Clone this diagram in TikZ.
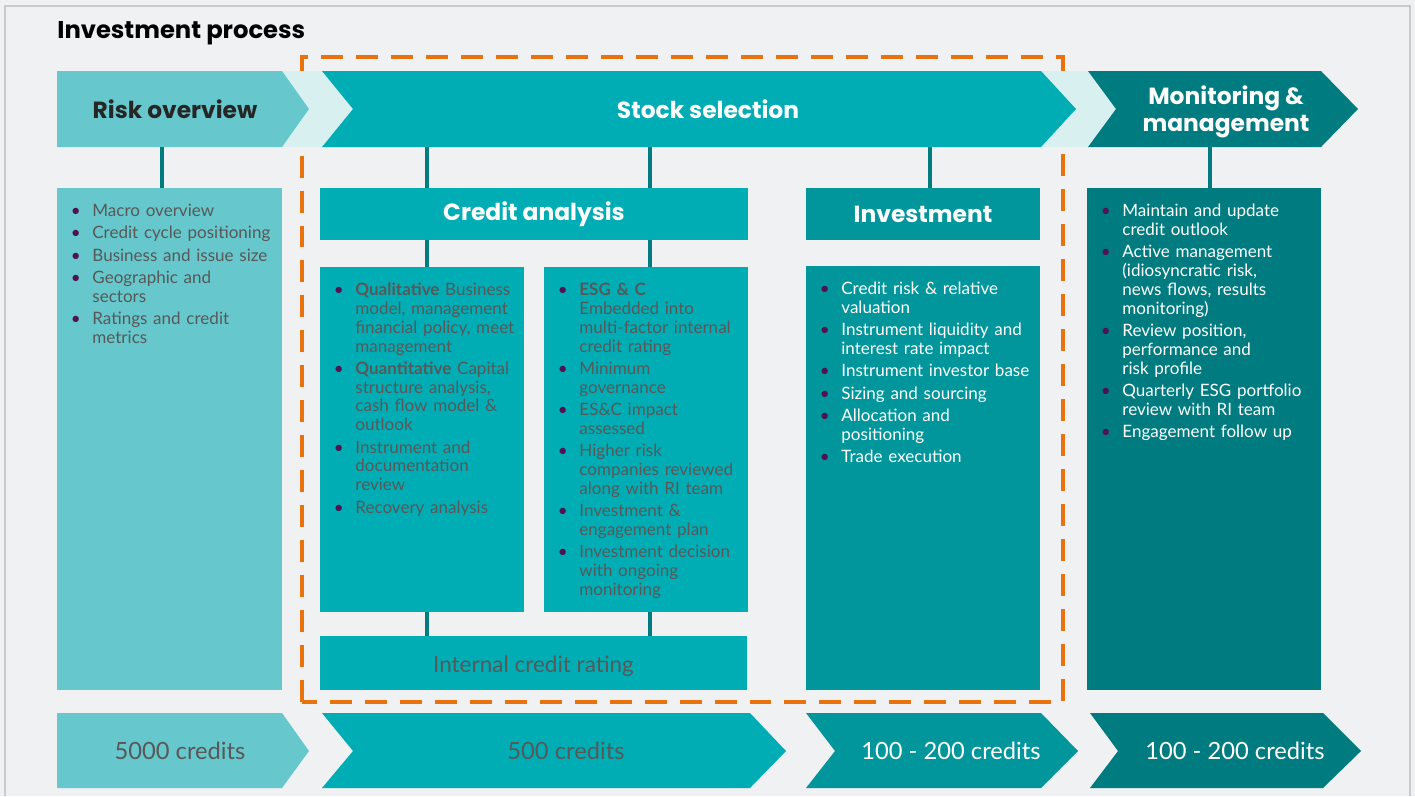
\documentclass[tikz,border=0pt]{standalone}
\usepackage{fontspec}
\setmainfont{Lato}
\newfontfamily\headfont{Poppins}
\usetikzlibrary{positioning}
\usetikzlibrary{fit}

\definecolor{bgcol}{HTML}{F0F1F3}
\definecolor{framecol}{HTML}{C9CACC}
\definecolor{lteal}{HTML}{66C8CC}
\definecolor{pale}{HTML}{D9F0F1}
\definecolor{stockcol}{HTML}{00ADB5}
\definecolor{midteal}{HTML}{00969C}
\definecolor{darkteal}{HTML}{007B80}
\definecolor{dashcol}{HTML}{E8730E}
\definecolor{bulcol}{HTML}{4E1350}
\definecolor{txtgray}{HTML}{585858}
\definecolor{headgray}{HTML}{262626}

\newcommand{\bitem}{\par\hangindent=9.7pt\hangafter=1\noindent\makebox[9.7pt][l]{\hspace*{-2.5pt}\textcolor{bulcol}{\textbullet}}}
\newcommand{\brk}{\hfil\break}

\begin{document}
\begin{tikzpicture}[x=0.02cm, y=-0.02cm,
    head/.style={font=\headfont\bfseries\fontsize{13.3}{15.4}\selectfont},
    box/.style={inner sep=0pt, outer sep=0pt},
    link/.style={draw=darkteal, line width=2.3pt},
    blist/.style={anchor=north west, inner sep=0pt, text width=119pt, align=left,
        font=\fontsize{9.7}{10.7}\selectfont\setlength{\parskip}{2pt}},
    count/.style={font=\fontsize{13.5}{16}\selectfont}]
    \useasboundingbox (0,0) rectangle (1415,796);
    \fill[bgcol] (0,0) rectangle (1415,796);
    \draw[framecol, line width=0.6pt] (5,796) |- (1410,6) -- (1410,796);

    \node (title) at (57,38) [anchor=base west, inner sep=0pt, font=\headfont\bfseries\fontsize{13.8}{16}\selectfont] {Investment process};

    % dashed frame round the stock selection
    \draw[dashcol, line width=2.3pt, dash pattern=on 12.5pt off 7.4pt] (302,702) -- (302,57) -- (1063,57) -- (1063,702) -- cycle;

    % top row
    \fill[pale] (282,71) rectangle (353,147);
    \fill[pale] (1041,71) rectangle (1116,147);
    \fill[lteal] (57,71) -- (282,71) -- (309,109) -- (282,147) -- (57,147) -- cycle;
    \fill[stockcol] (322,71) -- (1041,71) -- (1076,109) -- (1041,147) -- (322,147) -- (353,109) -- cycle;
    \fill[darkteal] (1088,71) -- (1321,71) -- (1358,109) -- (1321,147) -- (1088,147) -- (1116,109) -- cycle;

    \node (risk) at (175,109) [head, text=headgray] {Risk overview};
    \node (stock) at (708,109) [head, text=white] {Stock selection};
    \node (monitor) at (1226,112) [head, text=white, align=center] {Monitoring \&\\management};

    \coordinate (risk-foot) at (162,147);
    \coordinate (ca-left) at (427,147);
    \coordinate (ca-right) at (650,147);
    \coordinate (inv-foot) at (930,147);
    \coordinate (mon-foot) at (1210,147);

    % boxes
    \node (riskbox) [box, fill=lteal, fit={(57,188) (282,690)}] {};
    \node (cahead) [box, fill=stockcol, fit={(320,188) (748,240)}] {};
    \node (qualbox) [box, fill=stockcol, fit={(320,267) (524,612)}] {};
    \node (esgbox) [box, fill=stockcol, fit={(544,267) (748,612)}] {};
    \node (rating) [box, fill=stockcol, fit={(320,636) (747,690)}] {};
    \node (invhead) [box, fill=midteal, fit={(806,188) (1040,240)}] {};
    \node (invbox) [box, fill=midteal, fit={(806,266) (1040,690)}] {};
    \node (monbox) [box, fill=darkteal, fit={(1087,188) (1321,690)}] {};

    \node (ca-title) at (cahead.center) [head, text=white] {Credit analysis};
    \node (inv-title) at (invhead.center) [head, text=white] {Investment};
    \node (rating-title) at ([yshift=-2pt]rating.center) [font=\fontsize{12.8}{15}\selectfont, text=txtgray] {Internal credit rating};

    \draw[link] (risk-foot) -- (risk-foot |- riskbox.north);
    \draw[link] (ca-left) -- (ca-left |- cahead.north);
    \draw[link] (ca-right) -- (ca-right |- cahead.north);
    \draw[link] (ca-left |- cahead.south) -- (ca-left |- qualbox.north);
    \draw[link] (ca-right |- cahead.south) -- (ca-right |- esgbox.north);
    \draw[link] (ca-left |- qualbox.south) -- (ca-left |- rating.north);
    \draw[link] (ca-right |- esgbox.south) -- (ca-right |- rating.north);
    \draw[link] (inv-foot) -- (inv-foot |- invhead.north);
    \draw[link] (mon-foot) -- (mon-foot |- monbox.north);

    % bullet lists
    \node (risklist) at ([shift={(18,6)}]riskbox.north west) [blist, text=txtgray] {%
        \bitem Macro overview
        \bitem Credit cycle positioning
        \bitem Business and issue size
        \bitem Geographic and\brk sectors
        \bitem Ratings and credit\brk metrics\par};
    \node (quallist) at ([shift={(18,6)}]qualbox.north west) [blist, text=txtgray, text width=105pt] {%
        \bitem \textbf{Qualitative} Business\brk model, management\brk financial policy, meet\brk management
        \bitem \textbf{Quantitative} Capital\brk structure analysis,\brk cash flow model \&\brk outlook
        \bitem Instrument and\brk documentation\brk review
        \bitem Recovery analysis\par};
    \node (esglist) at ([shift={(18,6)}]esgbox.north west) [blist, text=txtgray, text width=105pt] {%
        \bitem \textbf{ESG \& C}\brk Embedded into\brk multi-factor internal\brk credit rating
        \bitem Minimum\brk governance
        \bitem ES\&C impact\brk assessed
        \bitem Higher risk\brk companies reviewed\brk along with RI team
        \bitem Investment \&\brk engagement plan
        \bitem Investment decision\brk with ongoing\brk monitoring\par};
    \node (invlist) at ([shift={(18,6)}]invbox.north west) [blist, text=white] {%
        \bitem Credit risk \& relative\brk valuation
        \bitem Instrument liquidity and\brk interest rate impact
        \bitem Instrument investor base
        \bitem Sizing and sourcing
        \bitem Allocation and\brk positioning
        \bitem Trade execution\par};
    \node (monlist) at ([shift={(18,6)}]monbox.north west) [blist, text=white] {%
        \bitem Maintain and update\brk credit outlook
        \bitem Active management\brk (idiosyncratic risk,\brk news flows, results\brk monitoring)
        \bitem Review position,\brk performance and\brk risk profile
        \bitem Quarterly ESG portfolio\brk review with RI team
        \bitem Engagement follow up\par};

    % bottom row
    \fill[lteal] (57,713) -- (282,713) -- (309,751) -- (282,788) -- (57,788) -- cycle;
    \fill[stockcol] (322,713) -- (750,713) -- (786,751) -- (750,788) -- (322,788) -- (353,751) -- cycle;
    \fill[midteal] (806,713) -- (1041,713) -- (1078,751) -- (1041,788) -- (806,788) -- (835,751) -- cycle;
    \fill[darkteal] (1090,713) -- (1323,713) -- (1361,751) -- (1323,788) -- (1090,788) -- (1118,751) -- cycle;

    \node (cnt-risk) at (180,751) [count, text=txtgray] {5000 credits};
    \node (cnt-stock) at (566,751) [count, text=txtgray] {500 credits};
    \node (cnt-inv) at (951,751) [count, text=white] {100 - 200 credits};
    \node (cnt-mon) at (1235,751) [count, text=white] {100 - 200 credits};
\end{tikzpicture}
\end{document}
